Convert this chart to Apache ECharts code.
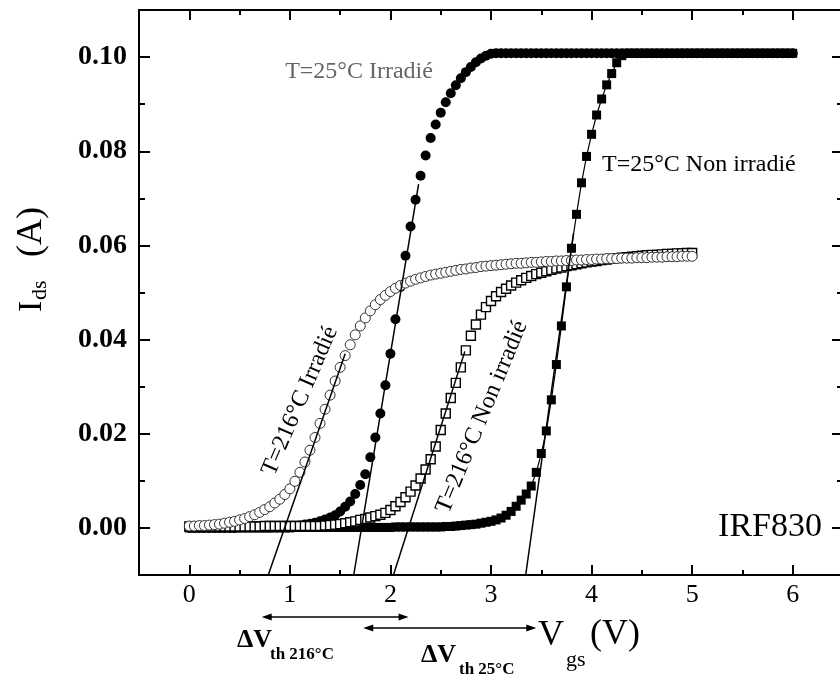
<!DOCTYPE html>
<html><head><meta charset="utf-8">
<script src="https://cdn.jsdelivr.net/npm/echarts@6/dist/echarts.min.js"></script>
<style>html,body{margin:0;padding:0;background:#fff}#c{width:840px;height:679px}</style>
</head><body><div id="c"></div>
<script>
// Gate voltage samples (V)
const vgs = [
 0.00,0.05,0.10,0.15,0.20,0.25,0.30,0.35,0.40,0.45,
 0.50,0.55,0.60,0.65,0.70,0.75,0.80,0.85,0.90,0.95,
 1.00,1.05,1.10,1.15,1.20,1.25,1.30,1.35,1.40,1.45,
 1.50,1.55,1.60,1.65,1.70,1.75,1.80,1.85,1.90,1.95,
 2.00,2.05,2.10,2.15,2.20,2.25,2.30,2.35,2.40,2.45,
 2.50,2.55,2.60,2.65,2.70,2.75,2.80,2.85,2.90,2.95,
 3.00,3.05,3.10,3.15,3.20,3.25,3.30,3.35,3.40,3.45,
 3.50,3.55,3.60,3.65,3.70,3.75,3.80,3.85,3.90,3.95,
 4.00,4.05,4.10,4.15,4.20,4.25,4.30,4.35,4.40,4.45,
 4.50,4.55,4.60,4.65,4.70,4.75,4.80,4.85,4.90,4.95,
 5.00,5.05,5.10,5.15,5.20,5.25,5.30,5.35,5.40,5.45,
 5.50,5.55,5.60,5.65,5.70,5.75,5.80,5.85,5.90,5.95,
 6.00
];
// T=25°C Irradié (filled circles), Ids (A)
const ids25Irr = [
 0.0000,0.0000,0.0000,0.0000,0.0000,0.0000,0.0000,0.0000,0.0000,0.0000,
 0.0001,0.0001,0.0001,0.0001,0.0001,0.0001,0.0001,0.0002,0.0002,0.0002,
 0.0003,0.0004,0.0005,0.0007,0.0009,0.0011,0.0014,0.0018,0.0022,0.0027,
 0.0035,0.0045,0.0056,0.0072,0.0091,0.0114,0.0150,0.0192,0.0243,0.0303,
 0.0370,0.0443,0.0512,0.0578,0.0640,0.0697,0.0748,0.0791,0.0828,0.0857,
 0.0882,0.0904,0.0923,0.0940,0.0955,0.0968,0.0979,0.0989,0.0997,0.1003,
 0.1007,0.1008,0.1008,0.1008,0.1008,0.1008,0.1008,0.1008,0.1008,0.1008,
 0.1008,0.1008,0.1008,0.1008,0.1008,0.1008,0.1008,0.1008,0.1008,0.1008,
 0.1008,0.1008,0.1008,0.1008,0.1008,0.1008,0.1008,0.1008,0.1008,0.1008,
 0.1008,0.1008,0.1008,0.1008,0.1008,0.1008,0.1008,0.1008,0.1008,0.1008,
 0.1008,0.1008,0.1008,0.1008,0.1008,0.1008,0.1008,0.1008,0.1008,0.1008,
 0.1008,0.1008,0.1008,0.1008,0.1008,0.1008,0.1008,0.1008,0.1008,0.1008,
 0.1008
];
// T=25°C Non irradié (filled squares)
const ids25Non = [
 0.0000,0.0000,0.0000,0.0000,0.0000,0.0000,0.0000,0.0000,0.0000,0.0000,
 0.0000,0.0000,0.0000,0.0000,0.0000,0.0000,0.0000,0.0000,0.0000,0.0000,
 0.0000,0.0001,0.0001,0.0001,0.0001,0.0001,0.0001,0.0001,0.0001,0.0001,
 0.0001,0.0001,0.0001,0.0001,0.0001,0.0001,0.0001,0.0001,0.0001,0.0001,
 0.0001,0.0002,0.0002,0.0002,0.0002,0.0002,0.0002,0.0002,0.0002,0.0002,
 0.0002,0.0003,0.0003,0.0004,0.0005,0.0006,0.0007,0.0008,0.0010,0.0012,
 0.0014,0.0017,0.0021,0.0027,0.0035,0.0046,0.0059,0.0072,0.0089,0.0118,
 0.0158,0.0206,0.0272,0.0347,0.0429,0.0512,0.0594,0.0666,0.0733,0.0789,
 0.0836,0.0877,0.0911,0.0941,0.0965,0.0988,0.1003,0.1008,0.1008,0.1008,
 0.1008,0.1008,0.1008,0.1008,0.1008,0.1008,0.1008,0.1008,0.1008,0.1008,
 0.1008,0.1008,0.1008,0.1008,0.1008,0.1008,0.1008,0.1008,0.1008,0.1008,
 0.1008,0.1008,0.1008,0.1008,0.1008,0.1008,0.1008,0.1008,0.1008,0.1008,
 0.1008
];
// T=216°C Irradié (open circles), 0 to 5 V
const ids216Irr = [
 0.0004,0.0004,0.0005,0.0005,0.0006,0.0007,0.0008,0.0010,0.0012,0.0014,
 0.0017,0.0020,0.0024,0.0028,0.0033,0.0039,0.0045,0.0053,0.0061,0.0071,
 0.0083,0.0099,0.0118,0.0140,0.0165,0.0192,0.0222,0.0252,0.0282,0.0312,
 0.0341,0.0366,0.0389,0.0410,0.0429,0.0446,0.0461,0.0474,0.0485,0.0494,
 0.0502,0.0509,0.0515,0.0520,0.0524,0.0528,0.0531,0.0534,0.0537,0.0539,
 0.0541,0.0543,0.0545,0.0547,0.0549,0.0550,0.0552,0.0553,0.0555,0.0556,
 0.0557,0.0558,0.0559,0.0560,0.0561,0.0562,0.0562,0.0563,0.0564,0.0564,
 0.0565,0.0566,0.0566,0.0567,0.0567,0.0568,0.0568,0.0569,0.0569,0.0570,
 0.0570,0.0571,0.0571,0.0572,0.0572,0.0572,0.0573,0.0573,0.0573,0.0574,
 0.0574,0.0574,0.0575,0.0575,0.0575,0.0576,0.0576,0.0576,0.0577,0.0577,
 0.0577
];
// T=216°C Non irradié (open squares), 0 to 5 V
const ids216Non = [
 0.0003,0.0003,0.0003,0.0003,0.0003,0.0003,0.0003,0.0003,0.0003,0.0003,
 0.0003,0.0003,0.0003,0.0003,0.0003,0.0004,0.0004,0.0004,0.0004,0.0004,
 0.0004,0.0004,0.0004,0.0004,0.0004,0.0004,0.0004,0.0005,0.0006,0.0007,
 0.0008,0.0010,0.0012,0.0014,0.0017,0.0019,0.0022,0.0025,0.0028,0.0032,
 0.0038,0.0046,0.0055,0.0065,0.0077,0.0090,0.0105,0.0124,0.0146,0.0173,
 0.0208,0.0243,0.0276,0.0308,0.0341,0.0377,0.0408,0.0432,0.0453,0.0469,
 0.0482,0.0492,0.0501,0.0508,0.0515,0.0521,0.0526,0.0531,0.0535,0.0539,
 0.0542,0.0545,0.0548,0.0551,0.0553,0.0556,0.0558,0.0560,0.0562,0.0564,
 0.0566,0.0567,0.0569,0.0570,0.0572,0.0573,0.0574,0.0575,0.0576,0.0577,
 0.0578,0.0579,0.0580,0.0580,0.0581,0.0582,0.0582,0.0583,0.0583,0.0584,
 0.0584
];
// Threshold extrapolation lines [Vgs, Ids]
const tan216Irr = [[0.785, -0.01], [1.55, 0.037]];
const tan25Irr  = [[1.635, -0.01], [2.28, 0.073]];
const tan216Non = [[2.03, -0.01], [2.74, 0.0375]];
const tan25Non  = [[3.345, -0.01], [3.82, 0.0625]];
// ΔVth arrows (V range)
const arrow216 = [0.72, 2.18];
const arrow25  = [1.73, 3.45];
// Tick values
const xMajor = [0, 1, 2, 3, 4, 5, 6];
const xMinor = [0.5, 1.5, 2.5, 3.5, 4.5, 5.5];
const yMajor = [0, 0.02, 0.04, 0.06, 0.08, 0.10];
const yMinor = [0.01, 0.03, 0.05, 0.07, 0.09];

const pair = arr => arr.map((y, i) => [vgs[i], y]);
const SERIF = '"Liberation Serif","Times New Roman",serif';

const chart = echarts.init(document.getElementById('c'), null, {renderer: 'canvas'});

function xAx(pos, ticks, len, labels) {
  return {
    type: 'value', min: -0.5, max: 6.5, position: pos,
    axisLine: {show: true, onZero: false, lineStyle: {color: '#000', width: 2}},
    axisTick: {show: true, inside: true, length: len, customValues: ticks, lineStyle: {color: '#000', width: 2}},
    axisLabel: labels ? {show: true, customValues: ticks, color: '#000', fontFamily: SERIF, fontSize: 26, margin: 7} : {show: false},
    splitLine: {show: false}
  };
}
function yAx(pos, ticks, len, labels) {
  return {
    type: 'value', min: -0.01, max: 0.11, position: pos,
    axisLine: {show: true, onZero: false, lineStyle: {color: '#000', width: 2}},
    axisTick: {show: true, inside: true, length: len, customValues: ticks, lineStyle: {color: '#000', width: 2}},
    axisLabel: labels ? {show: true, customValues: ticks, color: '#000', fontFamily: SERIF, fontSize: 28, fontWeight: 'bold', margin: 12,
      formatter: v => v.toFixed(2)} : {show: false},
    splitLine: {show: false}
  };
}

const tanStyle = {color: '#000', width: 1.5};
function tanSeries(d) {
  return {type: 'line', data: d, symbol: 'none', lineStyle: tanStyle, z: 10, silent: true};
}

chart.setOption({
  animation: false,
  backgroundColor: '#fff',
  grid: {left: 139, right: -3, top: 10, bottom: 104, containLabel: false, outerBoundsMode: 'none'},
  xAxis: [
    xAx('bottom', xMajor, 10, true),
    xAx('bottom', xMinor, 5, false),
    xAx('top', xMajor, 10, false),
    xAx('top', xMinor, 5, false)
  ],
  yAxis: [
    yAx('left', yMajor, 11, true),
    yAx('left', yMinor, 6, false),
    yAx('right', yMajor, 11, false),
    yAx('right', yMinor, 6, false)
  ],
  series: [
    {name: 'T=25°C Irradié', type: 'scatter', data: pair(ids25Irr), symbol: 'circle', symbolSize: 10,
      itemStyle: {color: '#000', opacity: 1}, z: 2},
    {name: 'T=25°C Non irradié', type: 'line', data: pair(ids25Non), symbol: 'rect', symbolSize: 9, showSymbol: true,
      showAllSymbol: true, itemStyle: {color: '#000', opacity: 1}, lineStyle: {color: '#000', width: 1.2}, z: 3},
    {name: 'T=216°C Non irradié', type: 'scatter', data: pair(ids216Non), symbol: 'rect', symbolSize: 9,
      itemStyle: {color: '#fff', borderColor: '#000', borderWidth: 1.4, opacity: 1}, z: 4},
    {name: 'T=216°C Irradié', type: 'scatter', data: pair(ids216Irr), symbol: 'circle', symbolSize: 10,
      itemStyle: {color: '#fff', borderColor: '#333', borderWidth: 1, opacity: 1}, z: 5},
    tanSeries(tan216Irr), tanSeries(tan25Irr), tanSeries(tan216Non), tanSeries(tan25Non)
  ]
});

function txt(x, y, text, size, opts) {
  opts = opts || {};
  return {
    type: 'text', x: x, y: y, rotation: opts.rot || 0, z: 100,
    style: {
      text: text, fill: opts.fill || '#000',
      font: (opts.bold ? 'bold ' : '') + size + 'px ' + SERIF,
      align: opts.align || 'left', verticalAlign: 'middle',
      textAlign: opts.align || 'left', textVerticalAlign: 'middle'
    }
  };
}
function arrowEls(v, y) {
  const x1 = chart.convertToPixel({xAxisIndex: 0}, v[0]);
  const x2 = chart.convertToPixel({xAxisIndex: 0}, v[1]);
  return [
    {type: 'line', shape: {x1: x1 + 6, y1: y, x2: x2 - 6, y2: y}, style: {stroke: '#000', lineWidth: 1.5}},
    {type: 'polygon', shape: {points: [[x1, y], [x1 + 10, y - 3.5], [x1 + 10, y + 3.5]]}, style: {fill: '#000'}},
    {type: 'polygon', shape: {points: [[x2, y], [x2 - 10, y - 3.5], [x2 - 10, y + 3.5]]}, style: {fill: '#000'}}
  ];
}

const deg = Math.PI / 180;
const graphics = [
  txt(359, 72, 'T=25°C Irradié', 24, {align: 'center', fill: '#666'}),
  txt(602, 165, 'T=25°C Non irradié', 24),
  txt(300, 401, 'T=216°C Irradié', 24, {align: 'center', rot: 66.7 * deg}),
  txt(482, 417, 'T=216°C Non irradié', 24, {align: 'center', rot: 67.5 * deg}),
  txt(822, 527, 'IRF830', 34, {align: 'right'}),
  // y axis title (rotated group)
  {type: 'group', x: 32, y: 255, rotation: 90 * deg, children: [
    txt(-57, 0, 'I', 34),
    txt(-45, 8, 'ds', 22),
    txt(-2, 0, '(A)', 36)
  ]},
  // x axis title
  txt(538, 636, 'V', 36),
  txt(566, 660, 'gs', 22),
  txt(590, 635, '(V)', 36),
  // delta Vth labels
  txt(237, 640, 'ΔV', 26, {bold: true}),
  txt(270, 655, 'th 216°C', 17, {bold: true}),
  txt(421, 655, 'ΔV', 26, {bold: true}),
  txt(459, 670, 'th 25°C', 17, {bold: true})
].concat(arrowEls(arrow216, 617), arrowEls(arrow25, 628));

chart.setOption({graphic: graphics});
</script>
</body></html>
